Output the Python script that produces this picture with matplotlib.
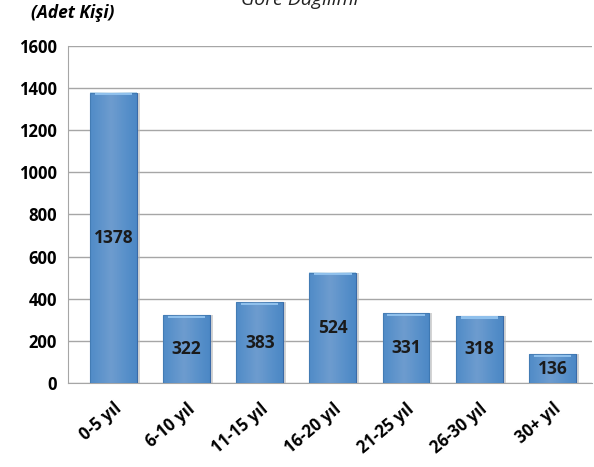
import matplotlib.pyplot as plt
import numpy as np

# Kıdem grupları ve kişi sayıları
categories = ['0-5 yıl', '6-10 yıl', '11-15 yıl', '16-20 yıl', '21-25 yıl', '26-30 yıl', '30+ yıl']
values = [1378, 322, 383, 524, 331, 318, 136]
yticks = [0, 200, 400, 600, 800, 1000, 1200, 1400, 1600]

plt.rcParams['font.family'] = ['Open Sans', 'DejaVu Sans']

fig = plt.figure(figsize=(5.94, 4.67), dpi=100)
ax = fig.add_axes([0.1145, 0.180, 0.882, 0.7215])

x = np.arange(len(categories))
# gölge
ax.bar(x + 0.04, values, width=0.64, color='#b8b8b8', alpha=0.6, zorder=2)
bars = ax.bar(x, values, width=0.64, color='#4f81c4', edgecolor='#3a6aa8', linewidth=0.8, zorder=3)

# gradyan efekti
for b in bars:
    bx, by, bw, bh = b.get_x(), b.get_y(), b.get_width(), b.get_height()
    grad = np.linspace(0, 1, 64)
    grad = 1 - np.abs(grad - 0.45) * 1.6
    img = np.tile(grad, (2, 1))
    ax.imshow(img, extent=[bx, bx + bw, by, by + bh], aspect='auto', cmap='Blues_r',
              vmin=-1.2, vmax=2.2, zorder=3.5, alpha=0.35)
    ax.add_patch(plt.Rectangle((bx + bw * 0.1, by + bh - 12), bw * 0.8, 10,
                               color='#8fc0ec', zorder=4, lw=0))

for xi, v in zip(x, values):
    ax.text(xi, v / 2, str(v), ha='center', va='center', fontsize=12.5,
            fontweight='bold', color='#1a1a1a', zorder=5)

ax.set_xlim(-0.62, len(categories) - 0.46)
ax.set_ylim(0, 1600)
ax.set_yticks(yticks)
ax.set_yticklabels([str(t) for t in yticks], fontsize=12, fontweight='bold')
ax.set_xticks(x)
ax.set_xticklabels(categories, rotation=40, ha='right', rotation_mode='anchor',
                   fontsize=12, fontweight='bold')
ax.tick_params(axis='both', length=0, pad=8)
ax.tick_params(axis='x', pad=12)
ax.grid(axis='y', color='#a6a6a6', linewidth=1, zorder=0)
for s in ['top', 'right']:
    ax.spines[s].set_visible(False)
ax.spines['left'].set_color('#a6a6a6')
ax.spines['bottom'].set_color('#a6a6a6')

fig.text(0.122, 0.972, '(Adet Kişi)', ha='center', va='center', fontsize=12.5,
         fontweight='bold', style='italic')
fig.text(0.505, 1.0, 'Göre Dağılımı', ha='center', va='center', fontsize=14,
         style='italic', color='#222222')

fig.savefig('out.png', dpi=100)
